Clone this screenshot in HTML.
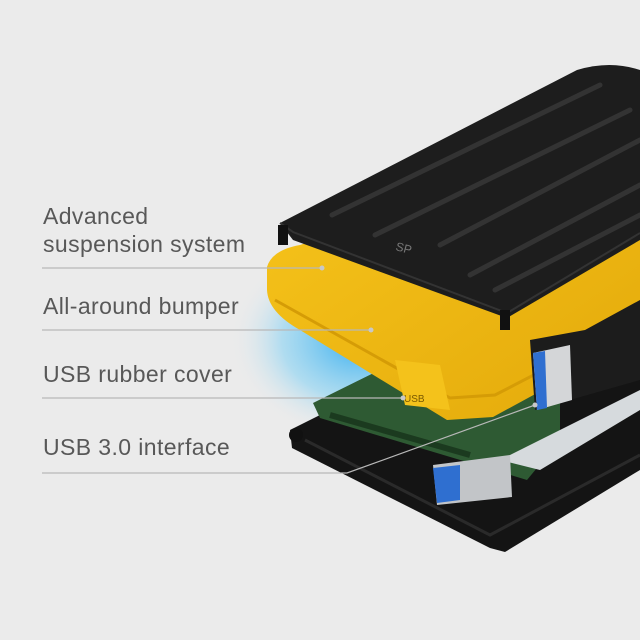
<!DOCTYPE html>
<html><head><style>
html,body{margin:0;padding:0;}
body{width:640px;height:640px;background:#ebebeb;position:relative;overflow:hidden;font-family:"Liberation Sans",sans-serif;}
.t{position:absolute;left:43px;color:#585858;font-size:23px;line-height:28px;letter-spacing:0.4px;}
svg{position:absolute;left:0;top:0;}
</style></head><body>
<svg width="640" height="640" viewBox="0 0 640 640">
<defs>
<radialGradient id="glow" cx="0.5" cy="0.5" r="0.5">
<stop offset="0" stop-color="#2aa9ef" stop-opacity="0.95"/>
<stop offset="0.6" stop-color="#7fd0f5" stop-opacity="0.55"/>
<stop offset="1" stop-color="#ebebeb" stop-opacity="0"/>
</radialGradient>
<linearGradient id="yel" x1="0" y1="0" x2="1" y2="1">
<stop offset="0" stop-color="#f7c51c"/><stop offset="1" stop-color="#e3a90a"/>
</linearGradient>
</defs>
<ellipse cx="360" cy="340" rx="130" ry="100" fill="url(#glow)"/>
<!-- base -->
<path d="M290,430 L470,340 L640,300 L640,470 L505,552 L490,548 L292,448 Z" fill="#141414"/>
<path d="M305,440 L490,535 L640,455" stroke="#2a2a2a" stroke-width="3" fill="none"/>
<circle cx="296" cy="435" r="7" fill="#111"/>
<!-- pcb -->
<path d="M313,403 L420,350 L560,380 L560,440 L527,480 L320,418 Z" fill="#2e5a33"/>
<path d="M330,415 L470,455" stroke="#1b3a1f" stroke-width="6"/>
<!-- tray silver -->
<path d="M500,460 L640,390 L640,410 L540,470 Z" fill="#d6dadd"/>
<!-- usb port -->
<path d="M433,465 L510,455 L512,497 L437,505 Z" fill="#c2c5c8"/>
<path d="M433,468 L460,465 L460,500 L437,503 Z" fill="#2f6fd0"/>
<!-- yellow bumper -->
<path d="M267,267 Q272,250 300,245 L560,160 L640,170 L640,337 L493,417 L447,420 L300,330 Q268,312 267,290 Z" fill="url(#yel)"/>
<path d="M275,300 L450,398 L495,395 L640,320" stroke="#d59c06" stroke-width="3" fill="none"/>
<path d="M395,360 L440,365 L450,410 L405,405 Z" fill="#f4c21b"/>
<text x="404" y="402" font-size="10" fill="#7a5a00" font-family="Liberation Sans">USB</text>
<!-- usb cable -->
<path d="M530,340 L585,330 L640,300 L640,380 L570,400 L535,410 Z" fill="#1c1c1c"/>
<path d="M533,353 L570,345 L572,400 L537,410 Z" fill="#d4d6d8"/>
<path d="M533,353 L545,351 L547,408 L537,410 Z" fill="#2f6fd0"/>
<!-- lid -->
<path d="M280,223 L577,70 Q610,60 640,70 L640,240 L507,318 L293,240 Z" fill="#1d1d1d"/>
<path d="M280,223 L293,232 L507,313 L640,233" stroke="#333" stroke-width="2" fill="none"/>
<g stroke="#333" stroke-width="5" stroke-linecap="round">
<line x1="332" y1="215" x2="600" y2="85"/>
<line x1="375" y1="235" x2="630" y2="110"/>
<line x1="440" y1="245" x2="640" y2="140"/>
<line x1="470" y1="275" x2="640" y2="185"/>
<line x1="495" y1="290" x2="640" y2="215"/>
</g>
<text x="395" y="250" font-size="12" fill="#777" font-family="Liberation Sans" transform="rotate(15 395 250)">SP</text>
<rect x="278" y="225" width="10" height="20" fill="#111"/>
<rect x="500" y="310" width="10" height="20" fill="#111"/>
<!-- leader lines -->
<g stroke="#b8b8b8" stroke-width="1.2" fill="none">
<line x1="42" y1="268" x2="322" y2="268"/>
<line x1="42" y1="330" x2="371" y2="330"/>
<line x1="42" y1="398" x2="403" y2="398"/>
<polyline points="42,473 347,473 535,405"/>
</g>
<g fill="#c8c8c8"><circle cx="322" cy="268" r="2.5"/><circle cx="371" cy="330" r="2.5"/><circle cx="403" cy="398" r="2.5"/><circle cx="535" cy="405" r="2.5"/></g>
</svg>
<div class="t" style="top:202px">Advanced<br>suspension system</div>
<div class="t" style="top:292px">All-around bumper</div>
<div class="t" style="top:360px">USB rubber cover</div>
<div class="t" style="top:433px">USB 3.0 interface</div>
</body></html>
